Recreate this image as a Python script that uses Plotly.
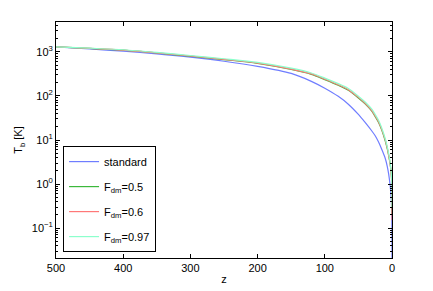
import plotly.graph_objects as go

z = [500, 450, 400, 350, 300, 250, 200, 150, 120, 100, 80, 65, 50, 40, 30, 25, 20, 15, 10, 7, 5, 3, 2, 1, 0.5, 0.2, 0.05, 0]

t_standard = [1300, 1170, 1040, 900, 760, 615, 470, 325, 215, 150, 98, 65, 38, 25, 16, 12.5, 9, 6, 3.8, 2.5, 1.7, 1.0, 0.7, 0.42, 0.26, 0.12, 0.04, 0.01]
t_f05 = [1300, 1200, 1100, 950, 800, 670, 550, 400, 310, 235, 175, 135, 90, 66, 45, 34, 25, 16.5, 9.5, 6.3, 4.5, 3.0, 2.3, 1.6, 1.2, 0.7, 0.35, 0.2]
t_f06 = [1300, 1205, 1105, 955, 808, 678, 558, 408, 317, 241, 180, 139, 93, 68, 46.5, 35, 26, 17, 9.9, 6.5, 4.6, 3.05, 2.3, 1.55, 1.1, 0.6, 0.3, 0.15]
t_f097 = [1305, 1215, 1120, 975, 830, 700, 580, 428, 333, 255, 191, 148, 99, 73, 50, 38, 28, 18.3, 10.7, 7.0, 5.0, 3.3, 2.5, 1.7, 1.3, 0.8, 0.5, 0.3]

names = ["standard", "F<sub>dm</sub>=0.5", "F<sub>dm</sub>=0.6", "F<sub>dm</sub>=0.97"]
colors = ["#6f7dff", "#3cb83c", "#ff7878", "#8cffcc"]
series = [t_standard, t_f05, t_f06, t_f097]

y_tickvals = [0.1, 1, 10, 100, 1000]
y_ticktext = ["10<sup>\u22121</sup>", "10<sup>0</sup>", "10<sup>1</sup>", "10<sup>2</sup>", "10<sup>3</sup>"]
x_tickvals = [500, 400, 300, 200, 100, 0]

fig = go.Figure()
for i, (nm, col, ys) in enumerate(zip(names, colors, series)):
    fig.add_trace(go.Scatter(x=z, y=ys, mode="lines", name=nm, legendgroup=f"g{i}",
                             line=dict(color=col, width=1.2, shape="spline", smoothing=0.8)))

font = dict(family="Liberation Sans, Arial, sans-serif", size=11, color="black")
# the page body has an 8px default margin, so the figure is shrunk by 8px
fig.update_layout(
    width=425, height=283,
    margin=dict(l=48, r=41, t=14, b=33),
    paper_bgcolor="white", plot_bgcolor="white",
    font=font,
    showlegend=True,
    legend=dict(x=0.021, y=0.025, xanchor="left", yanchor="bottom",
                bordercolor="black", borderwidth=1, bgcolor="white",
                font=dict(family="Liberation Sans, Arial, sans-serif", size=11),
                tracegroupgap=6),
)
fig.update_xaxes(range=[500, 0], tickvals=x_tickvals,
                 ticks="inside", ticklen=4, tickcolor="black",
                 showline=True, linecolor="black", linewidth=1, mirror="ticks",
                 showgrid=False, zeroline=False, automargin=False,
                 title=dict(text="z", standoff=2, font=dict(size=11)))
fig.update_yaxes(type="log", range=[-1.68, 3.68],
                 tickvals=y_tickvals, ticktext=y_ticktext,
                 ticks="inside", ticklen=4, tickcolor="black",
                 minor=dict(ticks="inside", ticklen=2, dtick="D1", tickcolor="black", showgrid=False),
                 showline=True, linecolor="black", linewidth=1, mirror="ticks",
                 showgrid=False, zeroline=False, automargin=False,
                 title=dict(text="T<sub>b</sub> [K]", standoff=6, font=dict(size=11)))

fig.write_html("out.html")
